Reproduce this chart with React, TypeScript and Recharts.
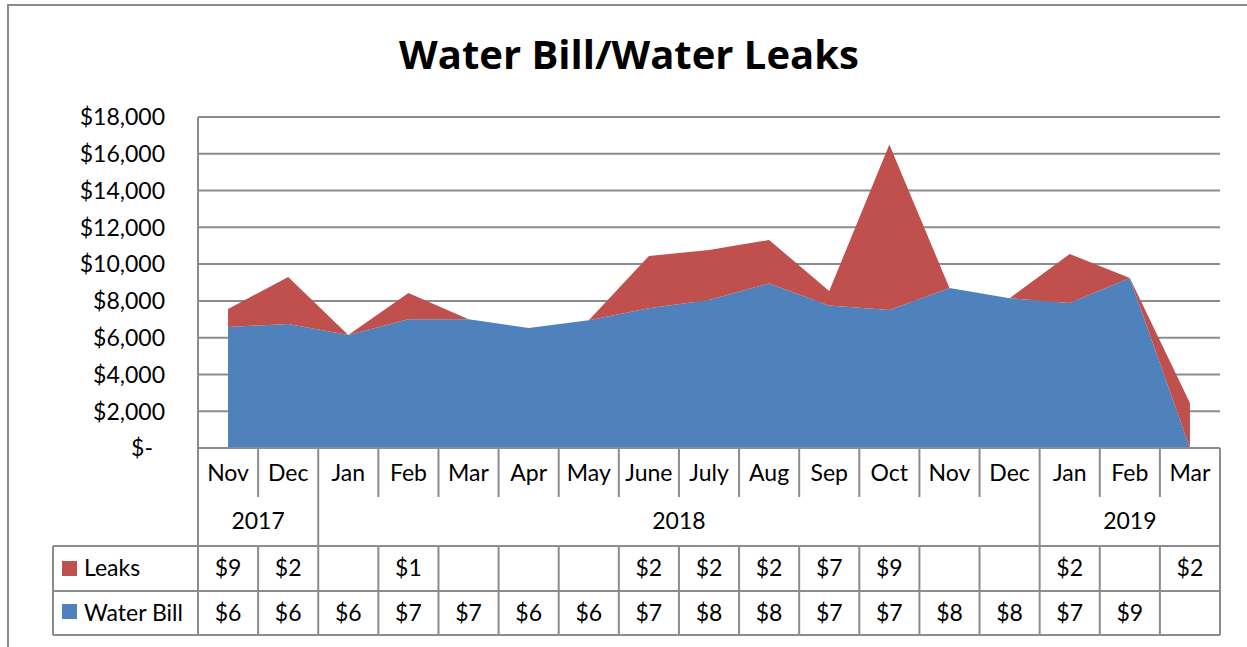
import React from 'react';
import { AreaChart, Area, XAxis, YAxis, CartesianGrid } from 'recharts';

const months = ['Nov', 'Dec', 'Jan', 'Feb', 'Mar', 'Apr', 'May', 'June', 'July', 'Aug', 'Sep', 'Oct', 'Nov', 'Dec', 'Jan', 'Feb', 'Mar'];
const waterBill = [6580, 6750, 6150, 7000, 7000, 6530, 6950, 7600, 8050, 8950, 7750, 7500, 8700, 8150, 7880, 9250, 0];
const leaks = [980, 2550, 0, 1430, 0, 0, 0, 2840, 2720, 2360, 790, 9000, 0, 0, 2670, 0, 2450];
const years = [
  { label: '2017', start: 0, count: 2 },
  { label: '2018', start: 2, count: 12 },
  { label: '2019', start: 14, count: 3 },
];
const yTicks = [0, 2000, 4000, 6000, 8000, 10000, 12000, 14000, 16000, 18000];

const BLUE = '#4F81BD';
const RED = '#C0504D';
const GRAY = '#8c8c8c';
const FONT = "Lato, 'Open Sans', sans-serif";

const PLOT_LEFT = 198;
const PLOT_RIGHT = 1220;
const BAND = (PLOT_RIGHT - PLOT_LEFT) / months.length;

const data = months.map((m, i) => ({ month: m, bill: waterBill[i], leaks: leaks[i] }));

// Excel's data table truncates the numbers to what fits in the cell
const cellText = (v: number) => (v ? ('$' + v.toLocaleString('en-US')).slice(0, 2) : '');

const YTick = (props: any) => {
  const { x, y, payload } = props;
  const v = payload.value;
  return (
    <text x={v === 0 ? x - 12 : x} y={y} dy="0.36em" textAnchor="end" fontSize={23} fontFamily={FONT} fill="#000">
      {v === 0 ? '$-' : '$' + v.toLocaleString('en-US')}
    </text>
  );
};

const TableTick = (props: any) => {
  const { x, y, payload } = props;
  const i = payload.index;
  const h = BAND / 2;
  const L = x - h;
  const R = x + h;
  const group = years.find((g) => g.start === i);
  const line = { stroke: GRAY, strokeWidth: 2 };
  return (
    <g>
      {/* vertical separators */}
      {group ? (
        <line x1={L} y1={y} x2={L} y2={y + 187} {...line} />
      ) : (
        <>
          <line x1={L} y1={y} x2={L} y2={y + 49} {...line} />
          <line x1={L} y1={y + 98} x2={L} y2={y + 187} {...line} />
        </>
      )}
      {i === months.length - 1 && <line x1={R} y1={y} x2={R} y2={y + 187} {...line} />}
      {/* horizontal rules */}
      <line x1={L} y1={y + 98} x2={R} y2={y + 98} {...line} />
      <line x1={L} y1={y + 143} x2={R} y2={y + 143} {...line} />
      <line x1={L} y1={y + 187} x2={R} y2={y + 187} {...line} />

      <text x={x} y={y + 25} dy="0.36em" textAnchor="middle" fontSize={23} fontFamily={FONT} fill="#000">
        {payload.value}
      </text>
      {group && (
        <text x={L + (group.count * BAND) / 2} y={y + 73} dy="0.36em" textAnchor="middle" fontSize={23} fontFamily={FONT} fill="#000">
          {group.label}
        </text>
      )}
      <text x={x} y={y + 120} dy="0.36em" textAnchor="middle" fontSize={23} fontFamily={FONT} fill="#000">
        {cellText(leaks[i])}
      </text>
      <text x={x} y={y + 165} dy="0.36em" textAnchor="middle" fontSize={23} fontFamily={FONT} fill="#000">
        {cellText(waterBill[i])}
      </text>

      {/* legend column */}
      {i === 0 && (
        <>
          <line x1={53} y1={y + 98} x2={L} y2={y + 98} {...line} />
          <line x1={53} y1={y + 143} x2={L} y2={y + 143} {...line} />
          <line x1={53} y1={y + 187} x2={L} y2={y + 187} {...line} />
          <line x1={53} y1={y + 98} x2={53} y2={y + 187} {...line} />
          <rect x={62} y={y + 113} width={15} height={15} fill={RED} />
          <text x={84} y={y + 120} dy="0.36em" fontSize={23} fontFamily={FONT} fill="#000">Leaks</text>
          <rect x={62} y={y + 156} width={15} height={15} fill={BLUE} />
          <text x={84} y={y + 165} dy="0.36em" fontSize={23} fontFamily={FONT} fill="#000">Water Bill</text>
        </>
      )}
    </g>
  );
};

export default function App() {
  return (
    <div style={{ position: 'absolute', left: 0, top: 0, width: 1247, height: 647, background: '#fff', overflow: 'hidden' }}>
      <style>{'body{margin:0}'}</style>
      <div
        style={{
          position: 'absolute',
          left: 7,
          top: 4,
          width: 1300,
          height: 700,
          borderLeft: `2px solid ${GRAY}`,
          borderTop: `2px solid ${GRAY}`,
        }}
      />
      <div
        style={{
          position: 'absolute',
          left: 0,
          width: 1258,
          top: 26,
          textAlign: 'center',
          fontFamily: "'Open Sans', Lato, sans-serif",
          fontWeight: 700,
          fontSize: 40,
          lineHeight: 'normal',
          color: '#000',
        }}
      >
        Water Bill/Water Leaks
      </div>
      <div style={{ position: 'absolute', left: 0, top: 0 }}>
        <AreaChart width={1247} height={647} data={data} margin={{ top: 117, right: 27, left: 98, bottom: 12 }}>
          <CartesianGrid vertical={false} stroke={GRAY} strokeWidth={2} />
          <XAxis
            dataKey="month"
            height={187}
            interval={0}
            padding={{ left: BAND / 2, right: BAND / 2 }}
            axisLine={{ stroke: GRAY, strokeWidth: 2 }}
            tickLine={false}
            tickSize={0}
            tickMargin={0}
            tick={<TableTick />}
          />
          <YAxis
            width={100}
            domain={[0, 18000]}
            ticks={yTicks}
            interval={0}
            axisLine={{ stroke: GRAY, strokeWidth: 2 }}
            tickLine={false}
            tickSize={0}
            tickMargin={33}
            tick={<YTick />}
          />
          <Area type="linear" dataKey="bill" stackId="1" stroke="none" fill={BLUE} fillOpacity={1} isAnimationActive={false} />
          <Area type="linear" dataKey="leaks" stackId="1" stroke="none" fill={RED} fillOpacity={1} isAnimationActive={false} />
        </AreaChart>
      </div>
    </div>
  );
}
